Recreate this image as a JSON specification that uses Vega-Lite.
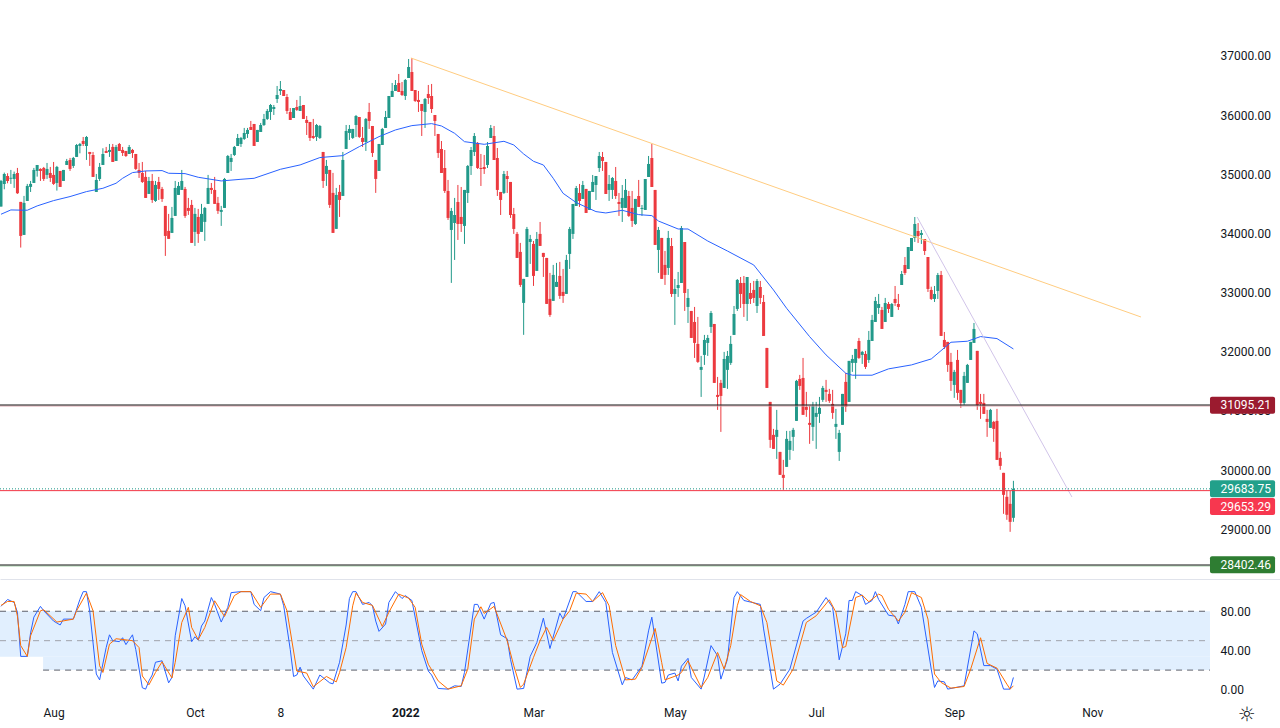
{"$schema":"https://vega.github.io/schema/vega-lite/v6.json","padding":{"left":-2,"top":0,"right":0,"bottom":0},"background":"white","spacing":0,
"config":{"view":{"stroke":null},"font":"Roboto","axis":{"grid":false,"title":null,"labelFont":"Roboto","labelFontSize":12,"labelColor":"#131722"}},
"datasets":{
"candles":[
{"bar":0,"open":34454,"high":34904,"low":34454,"close":34887},{"bar":1,"open":34837,"high":35028,"low":34746,"close":35005},{"bar":2,"open":34972,"high":35017,"low":34848,"close":34887},{"bar":3,"open":34925,"high":35073,"low":34837,"close":34940},{"bar":4,"open":34921,"high":35045,"low":34769,"close":35005},{"bar":5,"open":35022,"high":35107,"low":34668,"close":34679},{"bar":6,"open":34533,"high":34533,"low":33761,"close":33958},{"bar":7,"open":33975,"high":34634,"low":33975,"close":34516},{"bar":8,"open":34549,"high":34837,"low":34549,"close":34803},{"bar":9,"open":34786,"high":34887,"low":34701,"close":34837},
{"bar":10,"open":34853,"high":35107,"low":34853,"close":35073},{"bar":11,"open":35056,"high":35157,"low":34960,"close":35157},{"bar":12,"open":35090,"high":35101,"low":34887,"close":35056},{"bar":13,"open":35107,"high":35124,"low":34887,"close":34921},{"bar":14,"open":34989,"high":35191,"low":34921,"close":35090},{"bar":15,"open":35022,"high":35124,"low":34870,"close":34938},{"bar":16,"open":34989,"high":35208,"low":34820,"close":34837},{"bar":17,"open":34853,"high":35141,"low":34724,"close":35124},{"bar":18,"open":35056,"high":35056,"low":34786,"close":34786},{"bar":19,"open":34887,"high":35073,"low":34887,"close":35073},
{"bar":20,"open":35157,"high":35259,"low":35157,"close":35225},{"bar":21,"open":35242,"high":35276,"low":35056,"close":35090},{"bar":22,"open":35141,"high":35293,"low":35107,"close":35276},{"bar":23,"open":35293,"high":35512,"low":35293,"close":35495},{"bar":24,"open":35478,"high":35529,"low":35354,"close":35512},{"bar":25,"open":35563,"high":35630,"low":35478,"close":35512},{"bar":26,"open":35478,"high":35647,"low":35242,"close":35630},{"bar":27,"open":35377,"high":35377,"low":35141,"close":35343},{"bar":28,"open":35326,"high":35377,"low":34955,"close":34955},{"bar":29,"open":34701,"high":35005,"low":34701,"close":34904},
{"bar":30,"open":34921,"high":35191,"low":34887,"close":35124},{"bar":31,"open":35157,"high":35439,"low":35157,"close":35343},{"bar":32,"open":35394,"high":35462,"low":35360,"close":35360},{"bar":33,"open":35377,"high":35512,"low":35293,"close":35411},{"bar":34,"open":35462,"high":35512,"low":35208,"close":35208},{"bar":35,"open":35225,"high":35495,"low":35225,"close":35462},{"bar":36,"open":35512,"high":35529,"low":35394,"close":35394},{"bar":37,"open":35411,"high":35462,"low":35309,"close":35360},{"bar":38,"open":35394,"high":35394,"low":35293,"close":35309},{"bar":39,"open":35343,"high":35495,"low":35343,"close":35462},
{"bar":40,"open":35411,"high":35428,"low":35276,"close":35360},{"bar":41,"open":35343,"high":35343,"low":35073,"close":35090},{"bar":42,"open":35073,"high":35191,"low":34938,"close":35022},{"bar":43,"open":35022,"high":35208,"low":34853,"close":34870},{"bar":44,"open":34955,"high":35056,"low":34600,"close":34600},{"bar":45,"open":34668,"high":34955,"low":34668,"close":34887},{"bar":46,"open":34887,"high":35005,"low":34516,"close":34566},{"bar":47,"open":34549,"high":34887,"low":34533,"close":34820},{"bar":48,"open":34870,"high":34955,"low":34566,"close":34752},{"bar":49,"open":34752,"high":34786,"low":34533,"close":34583},
{"bar":50,"open":34465,"high":34465,"low":33620,"close":33958},{"bar":51,"open":34043,"high":34330,"low":33908,"close":33908},{"bar":52,"open":34009,"high":34448,"low":34009,"close":34262},{"bar":53,"open":34296,"high":34887,"low":34296,"close":34769},{"bar":54,"open":34651,"high":34870,"low":34651,"close":34803},{"bar":55,"open":34735,"high":35073,"low":34735,"close":34887},{"bar":56,"open":34752,"high":34786,"low":34262,"close":34296},{"bar":57,"open":34431,"high":34600,"low":34313,"close":34381},{"bar":58,"open":34482,"high":34566,"low":33840,"close":33840},{"bar":59,"open":34026,"high":34431,"low":33789,"close":34330},
{"bar":60,"open":34279,"high":34414,"low":33840,"close":33992},{"bar":61,"open":34026,"high":34499,"low":34026,"close":34330},{"bar":62,"open":34195,"high":34448,"low":33874,"close":34431},{"bar":63,"open":34499,"high":34989,"low":34499,"close":34769},{"bar":64,"open":34769,"high":34853,"low":34668,"close":34735},{"bar":65,"open":34735,"high":34955,"low":34499,"close":34499},{"bar":66,"open":34516,"high":34617,"low":34330,"close":34381},{"bar":67,"open":34364,"high":34465,"low":34127,"close":34397},{"bar":68,"open":34431,"high":34938,"low":34431,"close":34921},{"bar":69,"open":35022,"high":35326,"low":35022,"close":35309},
{"bar":70,"open":35208,"high":35343,"low":35056,"close":35276},{"bar":71,"open":35326,"high":35478,"low":35309,"close":35462},{"bar":72,"open":35478,"high":35681,"low":35478,"close":35613},{"bar":73,"open":35512,"high":35631,"low":35462,"close":35614},{"bar":74,"open":35597,"high":35783,"low":35580,"close":35698},{"bar":75,"open":35681,"high":35783,"low":35614,"close":35749},{"bar":76,"open":35799,"high":35901,"low":35749,"close":35749},{"bar":77,"open":35850,"high":35850,"low":35479,"close":35479},{"bar":78,"open":35546,"high":35749,"low":35546,"close":35749},{"bar":79,"open":35715,"high":35867,"low":35715,"close":35833},
{"bar":80,"open":35833,"high":36019,"low":35816,"close":35935},{"bar":81,"open":35935,"high":36103,"low":35918,"close":36070},{"bar":82,"open":36053,"high":36188,"low":35918,"close":36171},{"bar":83,"open":36103,"high":36171,"low":36002,"close":36137},{"bar":84,"open":36272,"high":36492,"low":36205,"close":36340},{"bar":85,"open":36408,"high":36576,"low":36340,"close":36441},{"bar":86,"open":36424,"high":36424,"low":36323,"close":36323},{"bar":87,"open":36306,"high":36357,"low":36019,"close":36070},{"bar":88,"open":36053,"high":36120,"low":35918,"close":35918},{"bar":89,"open":35951,"high":36120,"low":35951,"close":36120},
{"bar":90,"open":36137,"high":36256,"low":36070,"close":36087},{"bar":91,"open":36070,"high":36323,"low":36070,"close":36154},{"bar":92,"open":36171,"high":36171,"low":35935,"close":35935},{"bar":93,"open":35918,"high":35985,"low":35664,"close":35867},{"bar":94,"open":35884,"high":35884,"low":35563,"close":35614},{"bar":95,"open":35647,"high":35935,"low":35597,"close":35614},{"bar":96,"open":35631,"high":35850,"low":35563,"close":35833},{"bar":97,"open":35614,"high":35833,"low":35597,"close":35816},{"bar":98,"open":35377,"high":35377,"low":34769,"close":34887},{"bar":99,"open":35006,"high":35242,"low":34803,"close":35141},
{"bar":100,"open":35073,"high":35073,"low":34431,"close":34482},{"bar":101,"open":34685,"high":35023,"low":34009,"close":34009},{"bar":102,"open":34077,"high":34769,"low":34077,"close":34651},{"bar":103,"open":34702,"high":34820,"low":34279,"close":34566},{"bar":104,"open":34634,"high":35377,"low":34634,"close":35242},{"bar":105,"open":35428,"high":35833,"low":35428,"close":35732},{"bar":106,"open":35698,"high":35833,"low":35580,"close":35766},{"bar":107,"open":35614,"high":35766,"low":35597,"close":35766},{"bar":108,"open":35833,"high":36002,"low":35631,"close":35985},{"bar":109,"open":35968,"high":35968,"low":35614,"close":35631},
{"bar":110,"open":35614,"high":35799,"low":35462,"close":35546},{"bar":111,"open":35546,"high":35951,"low":35394,"close":35935},{"bar":112,"open":36053,"high":36205,"low":35766,"close":35901},{"bar":113,"open":35816,"high":35816,"low":35293,"close":35360},{"bar":114,"open":35242,"high":35242,"low":34685,"close":34921},{"bar":115,"open":35056,"high":35512,"low":35056,"close":35512},{"bar":116,"open":35495,"high":35783,"low":35495,"close":35766},{"bar":117,"open":35783,"high":36070,"low":35783,"close":35968},{"bar":118,"open":35951,"high":36323,"low":35951,"close":36323},{"bar":119,"open":36306,"high":36543,"low":36306,"close":36408},
{"bar":120,"open":36408,"high":36593,"low":36408,"close":36509},{"bar":121,"open":36543,"high":36695,"low":36391,"close":36391},{"bar":122,"open":36408,"high":36560,"low":36323,"close":36340},{"bar":123,"open":36323,"high":36610,"low":36256,"close":36593},{"bar":124,"open":36627,"high":36948,"low":36627,"close":36813},{"bar":125,"open":36728,"high":36965,"low":36408,"close":36408},{"bar":126,"open":36424,"high":36424,"low":36222,"close":36239},{"bar":127,"open":36256,"high":36408,"low":36053,"close":36222},{"bar":128,"open":36188,"high":36188,"low":35647,"close":36070},{"bar":129,"open":36053,"high":36289,"low":35783,"close":36272},
{"bar":130,"open":36357,"high":36509,"low":36188,"close":36289},{"bar":131,"open":36323,"high":36526,"low":36036,"close":36103},{"bar":132,"open":36002,"high":36002,"low":35647,"close":35901},{"bar":133,"open":35681,"high":35681,"low":35276,"close":35360},{"bar":134,"open":35427,"high":35562,"low":35022,"close":35022},{"bar":135,"open":35106,"high":35410,"low":34684,"close":34718},{"bar":136,"open":34718,"high":34904,"low":34228,"close":34262},{"bar":137,"open":34059,"high":34431,"low":33164,"close":34380},{"bar":138,"open":34177,"high":34600,"low":33552,"close":34312},{"bar":139,"open":34532,"high":34819,"low":33890,"close":34160},
{"bar":140,"open":34279,"high":34785,"low":34025,"close":34160},{"bar":141,"open":34127,"high":34735,"low":33823,"close":34735},{"bar":142,"open":34684,"high":35157,"low":34515,"close":35140},{"bar":143,"open":35140,"high":35461,"low":34988,"close":35410},{"bar":144,"open":35377,"high":35697,"low":35309,"close":35647},{"bar":145,"open":35529,"high":35545,"low":35089,"close":35106},{"bar":146,"open":35106,"high":35343,"low":34802,"close":35089},{"bar":147,"open":35123,"high":35326,"low":35005,"close":35089},{"bar":148,"open":35157,"high":35545,"low":35106,"close":35478},{"bar":149,"open":35613,"high":35833,"low":35613,"close":35782},
{"bar":150,"open":35647,"high":35816,"low":35241,"close":35241},{"bar":151,"open":35275,"high":35444,"low":34633,"close":34735},{"bar":152,"open":34701,"high":34701,"low":34312,"close":34566},{"bar":153,"open":34684,"high":35056,"low":34667,"close":35005},{"bar":154,"open":34971,"high":35056,"low":34684,"close":34920},{"bar":155,"open":34870,"high":34870,"low":34262,"close":34312},{"bar":156,"open":34329,"high":34431,"low":33992,"close":34076},{"bar":157,"open":33992,"high":34025,"low":33586,"close":33586},{"bar":158,"open":33688,"high":33840,"low":33096,"close":33130},{"bar":159,"open":32826,"high":33232,"low":32286,"close":33232},
{"bar":160,"open":33265,"high":34110,"low":33265,"close":34076},{"bar":161,"open":33856,"high":33975,"low":33485,"close":33907},{"bar":162,"open":33823,"high":33873,"low":33113,"close":33282},{"bar":163,"open":33367,"high":34025,"low":33367,"close":33907},{"bar":164,"open":33992,"high":34194,"low":33789,"close":33789},{"bar":165,"open":33671,"high":33671,"low":33265,"close":33603},{"bar":166,"open":33586,"high":33586,"low":32809,"close":32809},{"bar":167,"open":32894,"high":33333,"low":32590,"close":32623},{"bar":168,"open":32860,"high":33468,"low":32860,"close":33299},{"bar":169,"open":33096,"high":33502,"low":33096,"close":33181},
{"bar":170,"open":33282,"high":33519,"low":32894,"close":32944},{"bar":171,"open":33012,"high":33400,"low":32826,"close":32944},{"bar":172,"open":32978,"high":33637,"low":32978,"close":33552},{"bar":173,"open":33654,"high":34110,"low":33400,"close":34076},{"bar":174,"open":33992,"high":34498,"low":33907,"close":34498},{"bar":175,"open":34464,"high":34802,"low":34464,"close":34768},{"bar":176,"open":34684,"high":34836,"low":34448,"close":34549},{"bar":177,"open":34583,"high":34887,"low":34583,"close":34819},{"bar":178,"open":34752,"high":34752,"low":34346,"close":34346},{"bar":179,"open":34397,"high":34718,"low":34397,"close":34718},
{"bar":180,"open":34701,"high":34988,"low":34701,"close":34870},{"bar":181,"open":34819,"high":34971,"low":34566,"close":34971},{"bar":182,"open":35106,"high":35377,"low":35039,"close":35309},{"bar":183,"open":35292,"high":35377,"low":35056,"close":35225},{"bar":184,"open":35208,"high":35208,"low":34667,"close":34667},{"bar":185,"open":34735,"high":34988,"low":34549,"close":34836},{"bar":186,"open":34735,"high":34954,"low":34583,"close":34937},{"bar":187,"open":34887,"high":35123,"low":34583,"close":34633},{"bar":188,"open":34532,"high":34684,"low":34296,"close":34498},{"bar":189,"open":34431,"high":34819,"low":34194,"close":34600},
{"bar":190,"open":34431,"high":34920,"low":34431,"close":34735},{"bar":191,"open":34633,"high":34718,"low":34279,"close":34296},{"bar":192,"open":34431,"high":34718,"low":34110,"close":34211},{"bar":193,"open":34160,"high":34583,"low":34144,"close":34583},{"bar":194,"open":34633,"high":34904,"low":34448,"close":34448},{"bar":195,"open":34414,"high":34481,"low":34296,"close":34431},{"bar":196,"open":34397,"high":34920,"low":34397,"close":34920},{"bar":197,"open":34954,"high":35309,"low":34954,"close":35174},{"bar":198,"open":35275,"high":35512,"low":34785,"close":34785},{"bar":199,"open":34735,"high":34735,"low":33806,"close":33806},
{"bar":200,"open":33721,"high":34110,"low":33333,"close":34059},{"bar":201,"open":33924,"high":33924,"low":33232,"close":33232},{"bar":202,"open":33468,"high":33704,"low":33130,"close":33299},{"bar":203,"open":33417,"high":34042,"low":33299,"close":33924},{"bar":204,"open":33788,"high":33923,"low":32927,"close":32977},{"bar":205,"open":32977,"high":33230,"low":32454,"close":33062},{"bar":206,"open":33078,"high":33349,"low":32927,"close":33129},{"bar":207,"open":33163,"high":34126,"low":33163,"close":34092},{"bar":208,"open":33855,"high":33855,"low":32690,"close":32994},{"bar":209,"open":32758,"high":33062,"low":32487,"close":32910},
{"bar":210,"open":32690,"high":32690,"low":32234,"close":32234},{"bar":211,"open":32504,"high":32758,"low":31896,"close":32150},{"bar":212,"open":32133,"high":32589,"low":31812,"close":31829},{"bar":213,"open":31694,"high":31930,"low":31237,"close":31744},{"bar":214,"open":31947,"high":32285,"low":31778,"close":32200},{"bar":215,"open":32150,"high":32285,"low":31930,"close":32234},{"bar":216,"open":32420,"high":32690,"low":32318,"close":32656},{"bar":217,"open":32470,"high":32470,"low":31474,"close":31474},{"bar":218,"open":31271,"high":31575,"low":31018,"close":31237},{"bar":219,"open":31474,"high":31525,"low":30646,"close":31254},
{"bar":220,"open":31389,"high":31998,"low":31389,"close":31879},{"bar":221,"open":31694,"high":32014,"low":31373,"close":31930},{"bar":222,"open":31812,"high":32268,"low":31778,"close":32133},{"bar":223,"open":32285,"high":32774,"low":32285,"close":32639},{"bar":224,"open":32724,"high":33230,"low":32690,"close":33214},{"bar":225,"open":33163,"high":33264,"low":32741,"close":32977},{"bar":226,"open":33163,"high":33281,"low":32589,"close":32808},{"bar":227,"open":32808,"high":33264,"low":32521,"close":33264},{"bar":228,"open":32994,"high":33163,"low":32808,"close":32893},{"bar":229,"open":33045,"high":33197,"low":32825,"close":32910},
{"bar":230,"open":32774,"high":33230,"low":32656,"close":33197},{"bar":231,"open":33095,"high":33197,"low":32808,"close":32910},{"bar":232,"open":32842,"high":32960,"low":32268,"close":32268},{"bar":233,"open":32065,"high":32065,"low":31389,"close":31389},{"bar":234,"open":31153,"high":31153,"low":30376,"close":30511},{"bar":235,"open":30596,"high":30697,"low":30359,"close":30359},{"bar":236,"open":30562,"high":31018,"low":30190,"close":30680},{"bar":237,"open":30308,"high":30308,"low":29920,"close":29920},{"bar":238,"open":29920,"high":30173,"low":29667,"close":29869},{"bar":239,"open":30055,"high":30663,"low":30055,"close":30528},
{"bar":240,"open":30342,"high":30663,"low":30173,"close":30494},{"bar":241,"open":30562,"high":30714,"low":30325,"close":30680},{"bar":242,"open":30832,"high":31525,"low":30832,"close":31508},{"bar":243,"open":31541,"high":31609,"low":31356,"close":31423},{"bar":244,"open":31558,"high":31896,"low":30934,"close":30934},{"bar":245,"open":31069,"high":31322,"low":30900,"close":31018},{"bar":246,"open":30798,"high":31085,"low":30444,"close":30765},{"bar":247,"open":30731,"high":31153,"low":30494,"close":31085},{"bar":248,"open":30900,"high":31153,"low":30359,"close":30967},{"bar":249,"open":30950,"high":31237,"low":30798,"close":31052},
{"bar":250,"open":31187,"high":31423,"low":31153,"close":31389},{"bar":251,"open":31356,"high":31525,"low":31153,"close":31322},{"bar":252,"open":31288,"high":31373,"low":31136,"close":31170},{"bar":253,"open":31119,"high":31356,"low":30866,"close":30967},{"bar":254,"open":30731,"high":31035,"low":30528,"close":30781},{"bar":255,"open":30308,"high":30680,"low":30156,"close":30629},{"bar":256,"open":30765,"high":31288,"low":30765,"close":31288},{"bar":257,"open":31491,"high":31643,"low":30984,"close":31069},{"bar":258,"open":31153,"high":31846,"low":31153,"close":31846},{"bar":259,"open":31812,"high":31947,"low":31660,"close":31879},
{"bar":260,"open":31812,"high":32048,"low":31542,"close":32048},{"bar":261,"open":32183,"high":32234,"low":31879,"close":31896},{"bar":262,"open":31947,"high":32015,"low":31795,"close":31998},{"bar":263,"open":31964,"high":32015,"low":31710,"close":31744},{"bar":264,"open":31862,"high":32352,"low":31812,"close":32200},{"bar":265,"open":32183,"high":32623,"low":32183,"close":32538},{"bar":266,"open":32504,"high":32927,"low":32504,"close":32859},{"bar":267,"open":32741,"high":32977,"low":32639,"close":32808},{"bar":268,"open":32707,"high":32758,"low":32386,"close":32386},{"bar":269,"open":32504,"high":32910,"low":32504,"close":32825},
{"bar":270,"open":32808,"high":32842,"low":32656,"close":32724},{"bar":271,"open":32589,"high":32825,"low":32589,"close":32808},{"bar":272,"open":32893,"high":33112,"low":32775,"close":32825},{"bar":273,"open":32808,"high":32977,"low":32707,"close":32758},{"bar":274,"open":33129,"high":33366,"low":33129,"close":33315},{"bar":275,"open":33467,"high":33602,"low":33298,"close":33332},{"bar":276,"open":33399,"high":33771,"low":33399,"close":33771},{"bar":277,"open":33703,"high":33923,"low":33703,"close":33923},{"bar":278,"open":33923,"high":34278,"low":33856,"close":34160},{"bar":279,"open":34041,"high":34176,"low":33839,"close":33957},
{"bar":280,"open":33974,"high":34058,"low":33822,"close":34008},{"bar":281,"open":33906,"high":33906,"low":33636,"close":33703},{"bar":282,"open":33602,"high":33602,"low":33011,"close":33062},{"bar":283,"open":33045,"high":33100,"low":32876,"close":32893},{"bar":284,"open":32893,"high":33112,"low":32842,"close":32977},{"bar":285,"open":33028,"high":33332,"low":32893,"close":33298},{"bar":286,"open":33298,"high":33366,"low":32268,"close":32268},{"bar":287,"open":32200,"high":32335,"low":32048,"close":32082},{"bar":288,"open":32167,"high":32167,"low":31660,"close":31778},{"bar":289,"open":31829,"high":31981,"low":31339,"close":31508},
{"bar":290,"open":31440,"high":31694,"low":31221,"close":31660},{"bar":291,"open":31862,"high":32031,"low":31187,"close":31305},{"bar":292,"open":31356,"high":31356,"low":31052,"close":31136},{"bar":293,"open":31136,"high":31660,"low":31102,"close":31592},{"bar":294,"open":31474,"high":31795,"low":31474,"close":31778},{"bar":295,"open":31862,"high":32167,"low":31862,"close":32167},{"bar":296,"open":32150,"high":32487,"low":32150,"close":32386},{"bar":297,"open":32015,"high":32015,"low":31018,"close":31102},{"bar":298,"open":31153,"high":31288,"low":30866,"close":31119},{"bar":299,"open":31136,"high":31288,"low":30950,"close":30950},
{"bar":300,"open":30866,"high":31018,"low":30562,"close":30815},{"bar":301,"open":30714,"high":31035,"low":30714,"close":31018},{"bar":302,"open":30815,"high":30832,"low":30478,"close":30697},{"bar":303,"open":30832,"high":31035,"low":30173,"close":30173},{"bar":304,"open":30207,"high":30309,"low":30005,"close":30072},{"bar":305,"open":29954,"high":29954,"low":29261,"close":29582},{"bar":306,"open":29549,"high":29650,"low":29160,"close":29245},{"bar":307,"open":29430,"high":29650,"low":28957,"close":29126},{"bar":308,"open":29194,"high":29819,"low":29126,"close":29683.75}],
"ma":[{"bar":0,"price":34324},{"bar":3,"price":34397},{"bar":8,"price":34392},{"bar":11,"price":34465},{"bar":16,"price":34555},{"bar":21,"price":34623},{"bar":26,"price":34707},{"bar":31,"price":34763},{"bar":35,"price":34848},{"bar":37,"price":34932},{"bar":40,"price":35028},{"bar":44,"price":35056},{"bar":49,"price":35062},{"bar":51,"price":35017},{"bar":56,"price":35011},{"bar":60,"price":34949},{"bar":67,"price":34887},{"bar":73,"price":34915},{"bar":77,"price":34932},{"bar":85,"price":35084},{"bar":91,"price":35158},{"bar":97,"price":35282},{"bar":104,"price":35315},{"bar":109,"price":35467},{"bar":115,"price":35636},{"bar":120,"price":35749},{"bar":125,"price":35822},{"bar":131,"price":35856},{"bar":134,"price":35816},{"bar":138,"price":35692},{"bar":141,"price":35551},{"bar":147,"price":35506},{"bar":153,"price":35557},{"bar":156,"price":35495},{"bar":159,"price":35343},{"bar":162,"price":35219},{"bar":165,"price":35157},{"bar":168,"price":34932},{"bar":171,"price":34678},{"bar":175,"price":34521},{"bar":181,"price":34369},{"bar":184,"price":34346},{"bar":189,"price":34391},{"bar":194,"price":34318},{"bar":198,"price":34301},{"bar":200,"price":34210},{"bar":206,"price":34075},{"bar":209,"price":34075},{"bar":215,"price":33872},{"bar":221,"price":33703},{"bar":229,"price":33467},{"bar":235,"price":33045},{"bar":239,"price":32735},{"bar":246,"price":32256},{"bar":251,"price":31947},{"bar":257,"price":31637},{"bar":259,"price":31604},{"bar":265,"price":31604},{"bar":270,"price":31711},{"bar":277,"price":31778},{"bar":283,"price":31879},{"bar":289,"price":32161},{"bar":294,"price":32178},{"bar":298,"price":32257},{"bar":303,"price":32223},{"bar":308,"price":32048}],
"trend":[{"line":"down","bar":124.7,"price":36965},{"line":"down","bar":346.8,"price":32588},{"line":"steep","bar":278.7,"price":34278},{"line":"steep","bar":325.8,"price":29546}],
"levels":[{"name":"r","price":31083.7,"start":-0.3,"end":367.8},{"name":"rk","price":31100.6,"start":-0.3,"end":367.8},{"name":"c","price":29683.75,"start":-0.3,"end":367.8},{"name":"s","price":29653.29,"start":-0.3,"end":367.8},{"name":"g","price":28379.7,"start":-0.3,"end":367.8},{"name":"gk","price":28396.6,"start":-0.3,"end":367.8}],
"tags":[{"name":"r","pos":31095.21,"label":"31095.21","start":367.8,"end":387.6,"textAt":371},{"name":"c","pos":29683.75,"label":"29683.75","start":367.8,"end":387.6,"textAt":371},{"name":"s","pos":29385,"label":"29653.29","start":367.8,"end":387.6,"textAt":371},{"name":"g","pos":28402.46,"label":"28402.46","start":367.8,"end":387.6,"textAt":371}],
"band":[{"start":-0.3,"end":367.8,"low":33.5,"high":80},{"start":12.8,"end":367.8,"low":20,"high":33.5}],
"guides":[{"level":"80","value":80,"start":-0.3,"end":367.8},{"level":"50","value":50,"start":-0.3,"end":367.8},{"level":"20","value":20,"start":12.8,"end":367.8}],
"icon":[{"bar":379,"value":-25.6,"label":"☼"}],
"stoch":[
{"line":"K","bar":0,"value":85},{"line":"K","bar":2,"value":92},{"line":"K","bar":4,"value":89},{"line":"K","bar":5,"value":79},{"line":"K","bar":6,"value":34},{"line":"K","bar":8,"value":34},{"line":"K","bar":9,"value":58},{"line":"K","bar":10,"value":74},{"line":"K","bar":12,"value":85},{"line":"K","bar":13,"value":80.5},{"line":"K","bar":16,"value":70},{"line":"K","bar":18,"value":66},{"line":"K","bar":19,"value":72},{"line":"K","bar":22,"value":72},{"line":"K","bar":24,"value":92},{"line":"K","bar":25,"value":100},{"line":"K","bar":26,"value":100},{"line":"K","bar":27,"value":80},{"line":"K","bar":29,"value":16},{"line":"K","bar":30,"value":10},{"line":"K","bar":32,"value":43},{"line":"K","bar":33,"value":56},{"line":"K","bar":34,"value":50},{"line":"K","bar":36,"value":49},{"line":"K","bar":37,"value":53},{"line":"K","bar":38,"value":46},{"line":"K","bar":40,"value":56},{"line":"K","bar":41,"value":41},{"line":"K","bar":43,"value":2},{"line":"K","bar":44,"value":0.6},{"line":"K","bar":45,"value":9},{"line":"K","bar":46,"value":15},{"line":"K","bar":47,"value":28},{"line":"K","bar":49,"value":29.5},{"line":"K","bar":51,"value":7},{"line":"K","bar":52,"value":12.5},{"line":"K","bar":53,"value":55},{"line":"K","bar":55,"value":93},{"line":"K","bar":56,"value":85.6},{"line":"K","bar":58,"value":49},{"line":"K","bar":59,"value":54},{"line":"K","bar":60,"value":50.6},{"line":"K","bar":61,"value":65},{"line":"K","bar":62,"value":70},{"line":"K","bar":64,"value":94},{"line":"K","bar":65,"value":87},{"line":"K","bar":67,"value":69},{"line":"K","bar":69,"value":84},{"line":"K","bar":70,"value":99},{"line":"K","bar":73,"value":100},{"line":"K","bar":76,"value":100},{"line":"K","bar":77,"value":87},{"line":"K","bar":79,"value":80.5},{"line":"K","bar":80,"value":94},{"line":"K","bar":82,"value":100},{"line":"K","bar":85,"value":97.5},{"line":"K","bar":86,"value":85.6},{"line":"K","bar":88,"value":41},{"line":"K","bar":89,"value":13.5},{"line":"K","bar":90,"value":15},{"line":"K","bar":91,"value":23},{"line":"K","bar":92,"value":14},{"line":"K","bar":95,"value":0.6},{"line":"K","bar":97,"value":15},{"line":"K","bar":100,"value":7},{"line":"K","bar":101,"value":6},{"line":"K","bar":103,"value":28},{"line":"K","bar":105,"value":66},{"line":"K","bar":106,"value":93},{"line":"K","bar":107,"value":100},{"line":"K","bar":108,"value":100},{"line":"K","bar":110,"value":87},{"line":"K","bar":112,"value":89},{"line":"K","bar":113,"value":85.6},{"line":"K","bar":114,"value":70},{"line":"K","bar":115,"value":59.5},{"line":"K","bar":117,"value":67},{"line":"K","bar":118,"value":89},{"line":"K","bar":120,"value":100},{"line":"K","bar":122,"value":93},{"line":"K","bar":123,"value":96},{"line":"K","bar":125,"value":91},{"line":"K","bar":128,"value":40},{"line":"K","bar":130,"value":19},{"line":"K","bar":131,"value":15},{"line":"K","bar":133,"value":1.3},{"line":"K","bar":136,"value":0.6},{"line":"K","bar":138,"value":4},{"line":"K","bar":140,"value":3.3},{"line":"K","bar":141,"value":17.6},{"line":"K","bar":144,"value":87},{"line":"K","bar":145,"value":87},{"line":"K","bar":147,"value":72},{"line":"K","bar":149,"value":88},{"line":"K","bar":150,"value":89},{"line":"K","bar":152,"value":56},{"line":"K","bar":154,"value":52},{"line":"K","bar":155,"value":31},{"line":"K","bar":157,"value":0.6},{"line":"K","bar":159,"value":1.3},{"line":"K","bar":161,"value":34},{"line":"K","bar":163,"value":48},{"line":"K","bar":165,"value":73},{"line":"K","bar":167,"value":42},{"line":"K","bar":170,"value":78},{"line":"K","bar":171,"value":72},{"line":"K","bar":174,"value":100},{"line":"K","bar":175,"value":100},{"line":"K","bar":178,"value":90},{"line":"K","bar":180,"value":90},{"line":"K","bar":182,"value":100},{"line":"K","bar":184,"value":89},{"line":"K","bar":186,"value":38},{"line":"K","bar":189,"value":5},{"line":"K","bar":190,"value":12.5},{"line":"K","bar":192,"value":10},{"line":"K","bar":195,"value":24},{"line":"K","bar":197,"value":60},{"line":"K","bar":198,"value":74},{"line":"K","bar":201,"value":6.7},{"line":"K","bar":202,"value":7.5},{"line":"K","bar":203,"value":15},{"line":"K","bar":205,"value":17},{"line":"K","bar":206,"value":9},{"line":"K","bar":207,"value":24},{"line":"K","bar":209,"value":32},{"line":"K","bar":210,"value":12.5},{"line":"K","bar":213,"value":0.6},{"line":"K","bar":214,"value":14},{"line":"K","bar":216,"value":45},{"line":"K","bar":218,"value":34.6},{"line":"K","bar":219,"value":10.8},{"line":"K","bar":221,"value":31},{"line":"K","bar":223,"value":94},{"line":"K","bar":224,"value":100},{"line":"K","bar":226,"value":91},{"line":"K","bar":231,"value":87},{"line":"K","bar":232,"value":62},{"line":"K","bar":235,"value":0.6},{"line":"K","bar":237,"value":5.7},{"line":"K","bar":240,"value":21},{"line":"K","bar":244,"value":70},{"line":"K","bar":245,"value":72.7},{"line":"K","bar":247,"value":77},{"line":"K","bar":248,"value":79},{"line":"K","bar":251,"value":94},{"line":"K","bar":253,"value":84},{"line":"K","bar":255,"value":30.5},{"line":"K","bar":257,"value":57},{"line":"K","bar":258,"value":91},{"line":"K","bar":259,"value":91},{"line":"K","bar":260,"value":100},{"line":"K","bar":262,"value":96},{"line":"K","bar":263,"value":87},{"line":"K","bar":265,"value":91},{"line":"K","bar":266,"value":100},{"line":"K","bar":267,"value":92},{"line":"K","bar":270,"value":76},{"line":"K","bar":272,"value":75},{"line":"K","bar":273,"value":67},{"line":"K","bar":275,"value":87},{"line":"K","bar":276,"value":100},{"line":"K","bar":278,"value":100},{"line":"K","bar":280,"value":84},{"line":"K","bar":283,"value":21},{"line":"K","bar":284,"value":2.3},{"line":"K","bar":285,"value":9},{"line":"K","bar":287,"value":8},{"line":"K","bar":288,"value":0.6},{"line":"K","bar":293,"value":4},{"line":"K","bar":296,"value":60},{"line":"K","bar":297,"value":57},{"line":"K","bar":299,"value":24.6},{"line":"K","bar":301,"value":24.6},{"line":"K","bar":303,"value":21},{"line":"K","bar":305,"value":0.6},{"line":"K","bar":307,"value":0.6},{"line":"K","bar":308,"value":12.5},
{"line":"D","bar":0,"value":86},{"line":"D","bar":2,"value":90},{"line":"D","bar":4,"value":90},{"line":"D","bar":5,"value":75},{"line":"D","bar":6,"value":45},{"line":"D","bar":8,"value":34},{"line":"D","bar":9,"value":55},{"line":"D","bar":12,"value":80.5},{"line":"D","bar":13,"value":81.5},{"line":"D","bar":17,"value":69},{"line":"D","bar":22,"value":72},{"line":"D","bar":23,"value":80.5},{"line":"D","bar":26,"value":98.5},{"line":"D","bar":28,"value":80.5},{"line":"D","bar":30,"value":24.4},{"line":"D","bar":31,"value":17.6},{"line":"D","bar":33,"value":46.5},{"line":"D","bar":35,"value":52},{"line":"D","bar":40,"value":50},{"line":"D","bar":42,"value":43},{"line":"D","bar":43,"value":14},{"line":"D","bar":45,"value":5},{"line":"D","bar":47,"value":17.6},{"line":"D","bar":49,"value":28.5},{"line":"D","bar":52,"value":12},{"line":"D","bar":53,"value":28},{"line":"D","bar":55,"value":68.6},{"line":"D","bar":57,"value":84},{"line":"D","bar":58,"value":63.5},{"line":"D","bar":60,"value":51},{"line":"D","bar":62,"value":63.5},{"line":"D","bar":65,"value":90.7},{"line":"D","bar":68,"value":74.7},{"line":"D","bar":71,"value":96},{"line":"D","bar":73,"value":100},{"line":"D","bar":76,"value":100},{"line":"D","bar":79,"value":84},{"line":"D","bar":82,"value":97.5},{"line":"D","bar":85,"value":97.5},{"line":"D","bar":87,"value":80.5},{"line":"D","bar":90,"value":19},{"line":"D","bar":93,"value":17},{"line":"D","bar":95,"value":3},{"line":"D","bar":99,"value":13.5},{"line":"D","bar":102,"value":8},{"line":"D","bar":103,"value":17.6},{"line":"D","bar":105,"value":43},{"line":"D","bar":107,"value":85.6},{"line":"D","bar":108,"value":98.5},{"line":"D","bar":110,"value":89},{"line":"D","bar":113,"value":86},{"line":"D","bar":116,"value":64.5},{"line":"D","bar":118,"value":79},{"line":"D","bar":121,"value":97.5},{"line":"D","bar":124,"value":93.4},{"line":"D","bar":126,"value":84},{"line":"D","bar":128,"value":46.5},{"line":"D","bar":130,"value":26},{"line":"D","bar":133,"value":9},{"line":"D","bar":136,"value":0.6},{"line":"D","bar":140,"value":4},{"line":"D","bar":142,"value":21},{"line":"D","bar":144,"value":72},{"line":"D","bar":146,"value":84.6},{"line":"D","bar":147,"value":77.8},{"line":"D","bar":150,"value":85},{"line":"D","bar":154,"value":50},{"line":"D","bar":156,"value":24.4},{"line":"D","bar":158,"value":2.3},{"line":"D","bar":159,"value":5.7},{"line":"D","bar":162,"value":33},{"line":"D","bar":164,"value":50},{"line":"D","bar":166,"value":63.5},{"line":"D","bar":168,"value":50},{"line":"D","bar":171,"value":72},{"line":"D","bar":173,"value":80.5},{"line":"D","bar":175,"value":98.5},{"line":"D","bar":178,"value":97.5},{"line":"D","bar":180,"value":90},{"line":"D","bar":183,"value":99},{"line":"D","bar":185,"value":85.6},{"line":"D","bar":187,"value":45},{"line":"D","bar":190,"value":10},{"line":"D","bar":193,"value":10.8},{"line":"D","bar":195,"value":22.7},{"line":"D","bar":199,"value":62.5},{"line":"D","bar":201,"value":27.8},{"line":"D","bar":202,"value":10},{"line":"D","bar":206,"value":15},{"line":"D","bar":207,"value":17.6},{"line":"D","bar":209,"value":29.5},{"line":"D","bar":213,"value":2.3},{"line":"D","bar":215,"value":12.5},{"line":"D","bar":218,"value":38},{"line":"D","bar":220,"value":21},{"line":"D","bar":222,"value":45},{"line":"D","bar":224,"value":85.6},{"line":"D","bar":225,"value":97},{"line":"D","bar":228,"value":90},{"line":"D","bar":231,"value":85.6},{"line":"D","bar":233,"value":68.6},{"line":"D","bar":236,"value":9},{"line":"D","bar":238,"value":4.7},{"line":"D","bar":241,"value":21},{"line":"D","bar":245,"value":68.6},{"line":"D","bar":248,"value":75.4},{"line":"D","bar":252,"value":91.7},{"line":"D","bar":254,"value":79},{"line":"D","bar":256,"value":43},{"line":"D","bar":257,"value":44},{"line":"D","bar":260,"value":94},{"line":"D","bar":262,"value":96.5},{"line":"D","bar":264,"value":89.7},{"line":"D","bar":267,"value":97.5},{"line":"D","bar":268,"value":95.8},{"line":"D","bar":270,"value":82},{"line":"D","bar":273,"value":70},{"line":"D","bar":275,"value":79},{"line":"D","bar":277,"value":99},{"line":"D","bar":280,"value":94},{"line":"D","bar":282,"value":72},{"line":"D","bar":284,"value":16},{"line":"D","bar":286,"value":7.4},{"line":"D","bar":289,"value":1.6},{"line":"D","bar":293,"value":3.3},{"line":"D","bar":295,"value":21},{"line":"D","bar":298,"value":53},{"line":"D","bar":300,"value":26.8},{"line":"D","bar":303,"value":22},{"line":"D","bar":306,"value":5.7},{"line":"D","bar":307,"value":0.6},{"line":"D","bar":308,"value":4}]
},
"vconcat":[
{"width":1280,"height":579,"layer":[
{"data":{"name":"candles"},"mark":{"type":"rule","strokeWidth":1},"encoding":{
"x":{"field":"bar","type":"quantitative","scale":{"domain":[-0.304,389.1],"nice":false,"zero":false,"padding":0},"axis":{"labels":false,"ticks":false,"domain":true,"domainColor":"#e0e3eb","orient":"bottom"},"title":null},
"y":{"field":"low","type":"quantitative","scale":{"domain":[28160,37945],"nice":false,"zero":false,"padding":0},"axis":{"orient":"right","offset":-60,"domain":false,"ticks":false,"labelPadding":0,"labelAlign":"left","values":[29000,30000,31000,32000,33000,34000,35000,36000,37000],"format":".2f"},"title":null},
"y2":{"field":"high"},
"color":{"condition":{"test":"datum.close>=datum.open","value":"#22998a"},"value":"#ec3a3f"}}},
{"data":{"name":"candles"},"mark":{"type":"bar","size":3},"encoding":{
"x":{"field":"bar","type":"quantitative"},
"y":{"field":"open","type":"quantitative"},"y2":{"field":"close"},
"color":{"condition":{"test":"datum.close>=datum.open","value":"#22998a"},"value":"#ec3a3f"}}},
{"data":{"name":"ma"},"mark":{"type":"line","color":"#2962ff","strokeWidth":1},"encoding":{"x":{"field":"bar","type":"quantitative"},"y":{"field":"price","type":"quantitative"}}},
{"data":{"name":"trend"},"mark":{"type":"line","strokeWidth":1},"encoding":{"x":{"field":"bar","type":"quantitative"},"y":{"field":"price","type":"quantitative"},"color":{"field":"line","type":"nominal","legend":null,"scale":{"domain":["down","steep"],"range":["#ffcc80","#d1c4e9"]}}}},
{"data":{"name":"levels"},"mark":{"type":"rule","strokeWidth":1},"encoding":{"x":{"field":"start","type":"quantitative"},"x2":{"field":"end"},"y":{"field":"price","type":"quantitative"},
"color":{"field":"name","type":"nominal","legend":null,"scale":{"domain":["r","rk","c","s","g","gk"],"range":["#dba3ab","#1a1a1a","#22998a","#f23645","#a5cfa7","#1a1a1a"]}},
"strokeDash":{"field":"name","type":"nominal","legend":null,"scale":{"domain":["r","rk","c","s","g","gk"],"range":[[1,0],[1,0],[1,2],[1,0],[1,0],[1,0]]}}}},
{"data":{"name":"tags"},"mark":{"type":"bar","orient":"horizontal","height":17,"cornerRadius":2},"encoding":{"x":{"field":"start","type":"quantitative"},"x2":{"field":"end"},"y":{"field":"pos","type":"quantitative"},
"color":{"field":"name","type":"nominal","legend":null,"scale":{"domain":["r","c","s","g"],"range":["#9b1b2f","#22a08a","#f7374f","#2e7d32"]}}}},
{"data":{"name":"tags"},"mark":{"type":"text","align":"left","baseline":"middle","color":"white","fontSize":12,"font":"Roboto"},"encoding":{"x":{"field":"textAt","type":"quantitative"},"y":{"field":"pos","type":"quantitative"},"text":{"field":"label"}}}
],"resolve":{"scale":{"color":"independent"}}},
{"width":1280,"height":122,"layer":[
{"data":{"name":"band"},"mark":{"type":"rect","color":"#e1effe"},"encoding":{
"x":{"field":"start","type":"quantitative","scale":{"domain":[-0.304,389.1],"nice":false,"zero":false,"padding":0},"axis":{"values":[16,59,85,123,162,205,248,290,332],"labelExpr":"{'16':'Aug','59':'Oct','85':'8','123':'2022','162':'Mar','205':'May','248':'Jul','290':'Sep','332':'Nov'}[datum.value]","domain":false,"ticks":false,"labelPadding":6,"labelFontWeight":{"condition":{"test":"datum.value==123","value":"bold"},"value":"normal"}},"title":null},
"x2":{"field":"end"},
"y":{"field":"low","type":"quantitative","scale":{"domain":[-11.5,112.9],"nice":false,"zero":false,"padding":0},"axis":{"orient":"right","offset":-60,"domain":false,"ticks":false,"labelPadding":0,"labelAlign":"left","values":[0,40,80],"format":".2f"},"title":null},
"y2":{"field":"high"}}},
{"data":{"name":"guides"},"mark":{"type":"rule","strokeWidth":1,"strokeDash":[6,5]},"encoding":{"x":{"field":"start","type":"quantitative"},"x2":{"field":"end"},"y":{"field":"value","type":"quantitative"},"color":{"field":"level","type":"nominal","legend":null,"scale":{"domain":["80","50","20"],"range":["#5d606b","#a0a3ab","#5d606b"]}}}},
{"data":{"name":"stoch"},"mark":{"type":"line","strokeWidth":1},"encoding":{"x":{"field":"bar","type":"quantitative"},"y":{"field":"value","type":"quantitative"},"color":{"field":"line","type":"nominal","legend":null,"sort":["K","D"],"scale":{"domain":["K","D"],"range":["#2962ff","#ff6d00"]}}}},
{"data":{"name":"icon"},"mark":{"type":"text","fontSize":20,"font":"DejaVu Sans","color":"#131722","clip":false},"encoding":{"x":{"field":"bar","type":"quantitative"},"y":{"field":"value","type":"quantitative"},"text":{"field":"label"}}}
],"resolve":{"scale":{"color":"independent"}}}
],
"resolve":{"scale":{"color":"independent","x":"independent","y":"independent"}}}
